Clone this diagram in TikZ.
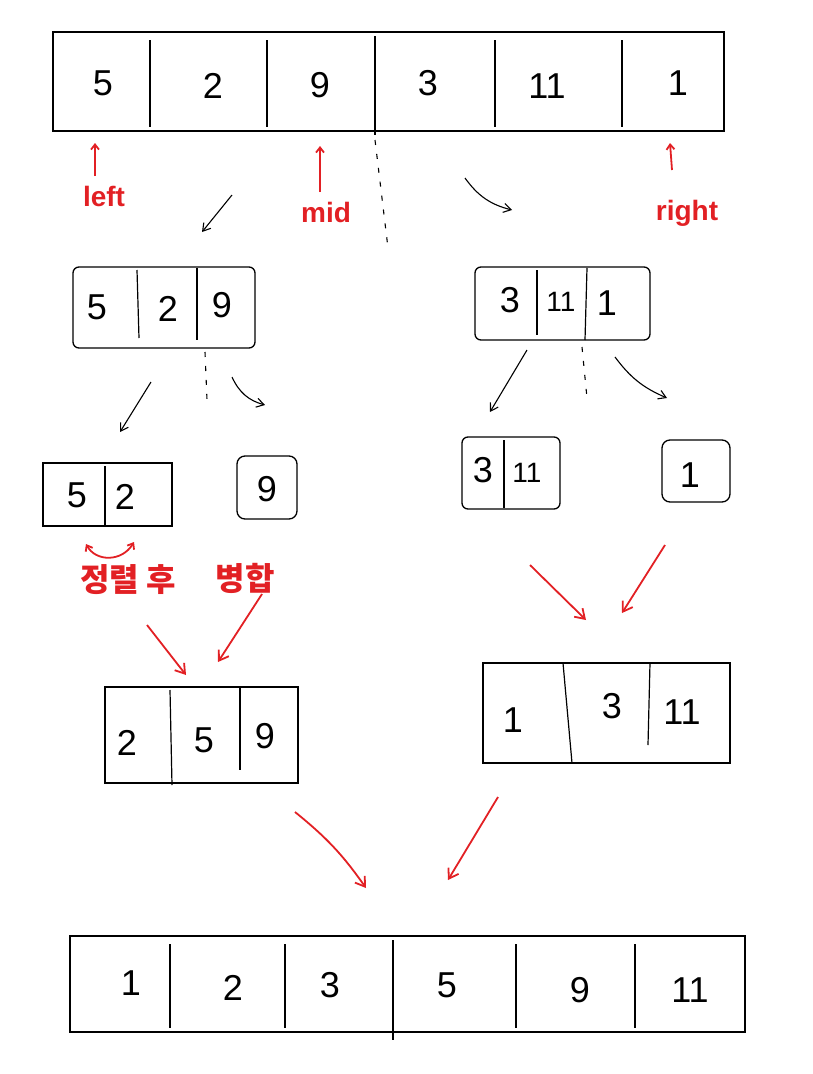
\documentclass[tikz,border=0pt]{standalone}
\usepackage{fontspec}
\usepackage{xcolor}
\usetikzlibrary{arrows.meta,positioning,calc}
\setsansfont{Liberation Sans}
\newfontfamily\korfont{Noto Sans CJK KR}
\definecolor{pen}{RGB}{226,32,36}

\begin{document}
\begin{tikzpicture}[
    x=1pt,y=-1pt,
    >={Straight Barb[length=2.6mm,width=3.2mm]},
    arr/.style={draw=black,line width=1.3pt,inner sep=0pt},
    cellline/.style={draw=black,line width=1.2pt},
    num/.style={font=\sffamily\fontsize{36}{40}\selectfont,inner sep=1pt},
    split/.style={->,line width=1.1pt,draw=black},
    dots/.style={draw=black,line width=1.1pt,dash pattern=on 5pt off 9pt},
    merge/.style={->,line width=1.8pt,draw=pen,
      >={Straight Barb[length=3.2mm,width=4.2mm]}},
    pointer/.style={->,line width=1.8pt,draw=pen,
      >={Straight Barb[length=1.8mm,width=2.8mm]}},
    marker/.style={text=pen,font=\sffamily\bfseries\fontsize{28}{32}\selectfont},
    remark/.style={text=pen,font=\korfont\bfseries\fontsize{32}{36}\selectfont}
  ]
    \useasboundingbox (0,0) rectangle (813,1074);

    % Original array: 5 2 9 3 11 1
    \node[arr,minimum width=671pt,minimum height=99pt] (top) at (388.5,81.5) {};
    \foreach \xx in {150,267,495,622}
      \draw[cellline] (\xx,40) -- (\xx,127);
    \draw[cellline] (375,36) -- (375,135);
    \node[num] (t1) at (103,83) {5};
    \node[num] (t2) at (213,86) {2};
    \node[num] (t3) at (320,85) {9};
    \node[num] (t4) at (428,83) {3};
    \node[num] (t5) at (547,86) {11};
    \node[num] (t6) at (678,83) {1};

    % Pointers under the array
    \coordinate (pl) at (95,176);   \coordinate (plt) at (95,143);
    \coordinate (pm) at (320,192);  \coordinate (pmt) at (320,146);
    \coordinate (pr) at (672,170);  \coordinate (prt) at (670,143);
    \draw[pointer] (pl) -- (plt);
    \draw[pointer] (pm) -- (pmt);
    \draw[pointer] (pr) -- (prt);
    \node[marker] (lleft) at (104,196) {left};
    \node[marker] (lmid) at (326,212) {mid};
    \node[marker] (lright) at (687,213) {right};

    % First split
    \draw[dots] (375,140) -- (388,248);
    \coordinate (s1a) at (232,195); \coordinate (s1b) at (202,232);
    \coordinate (s2a) at (465,178); \coordinate (s2b) at (512,210);
    \draw[split] (s1a) -- (s1b);
    \draw[split] (s2a) to[bend right=20] (s2b);

    % Left half: 5 2 9
    \node[arr,rounded corners=6pt,minimum width=182pt,minimum height=81pt] (lh) at (164,307.5) {};
    \draw[cellline] (137,270) -- (139,338);
    \draw[cellline] (197,268) -- (197,340);
    \node[num] (lh1) at (97,307) {5};
    \node[num] (lh2) at (168,309) {2};
    \node[num] (lh3) at (222,305) {9};

    % Right half: 3 11 1
    \node[arr,rounded corners=6pt,minimum width=175pt,minimum height=73pt] (rh) at (562.5,303.5) {};
    \draw[cellline] (537,270) -- (537,335);
    \draw[cellline] (587,268) -- (585,340);
    \node[num] (rh1) at (510,300) {3};
    \node[num,font=\sffamily\fontsize{28}{32}\selectfont] (rh2) at (561,302) {11};
    \node[num] (rh3) at (607,303) {1};

    % Second split
    \draw[dots] (205,352) -- (207,400);
    \draw[dots] (582,347) -- (587,398);
    \coordinate (s3a) at (151,382); \coordinate (s3b) at (120,432);
    \coordinate (s4a) at (232,377); \coordinate (s4b) at (265,405);
    \coordinate (s5a) at (527,350); \coordinate (s5b) at (490,412);
    \coordinate (s6a) at (615,357); \coordinate (s6b) at (667,398);
    \draw[split] (s3a) -- (s3b);
    \draw[split] (s4a) to[bend right=25] (s4b);
    \draw[split] (s5a) -- (s5b);
    \draw[split] (s6a) to[bend right=15] (s6b);

    % Single pieces
    \node[arr,minimum width=129pt,minimum height=63pt] (p52) at (107.5,494.5) {};
    \draw[cellline] (105,466) -- (105,525);
    \node[num] (p52a) at (77,495) {5};
    \node[num] (p52b) at (125,497) {2};
    \node[arr,rounded corners=8pt,minimum width=60pt,minimum height=63pt] (p9) at (267,487.5) {};
    \node[num] (p9a) at (267,489) {9};
    \node[arr,rounded corners=6pt,minimum width=98pt,minimum height=72pt] (p311) at (511,473) {};
    \draw[cellline] (504,440) -- (504,508);
    \node[num] (p311a) at (483,470) {3};
    \node[num,font=\sffamily\fontsize{28}{32}\selectfont] (p311b) at (527,473) {11};
    \node[arr,rounded corners=8pt,minimum width=68pt,minimum height=62pt] (p1) at (696,471) {};
    \node[num] (p1a) at (690,475) {1};

    % Swap and merge notes
    \coordinate (sw1) at (86,544); \coordinate (sw2) at (134,542);
    \draw[pointer,<->] (sw1) .. controls (96,562) and (122,562) .. (sw2);
    \node[remark] (nsort) at (128,580) {정렬 후};
    \node[remark] (nmerge) at (245,578) {병합};

    % Merge arrows, second level
    \coordinate (m1a) at (147,625); \coordinate (m1b) at (186,675);
    \coordinate (m2a) at (262,594); \coordinate (m2b) at (218,662);
    \coordinate (m3a) at (530,565); \coordinate (m3b) at (586,620);
    \coordinate (m4a) at (665,545); \coordinate (m4b) at (622,613);
    \draw[merge] (m1a) -- (m1b);
    \draw[merge] (m2a) -- (m2b);
    \draw[merge] (m3a) -- (m3b);
    \draw[merge] (m4a) -- (m4b);

    % Merged halves
    \node[arr,minimum width=193pt,minimum height=96pt] (ml) at (201.5,735) {};
    \draw[cellline] (170,690) -- (172,785);
    \draw[cellline] (240,688) -- (240,770);
    \node[num] (ml1) at (127,743) {2};
    \node[num] (ml2) at (204,740) {5};
    \node[num] (ml3) at (265,736) {9};
    \node[arr,minimum width=247pt,minimum height=100pt] (mr) at (606.5,713) {};
    \draw[cellline] (563,663) -- (572,763);
    \draw[cellline] (650,663) -- (648,745);
    \node[num] (mr1) at (513,720) {1};
    \node[num] (mr2) at (612,706) {3};
    \node[num] (mr3) at (682,712) {11};

    % Merge arrows, final level
    \coordinate (m5a) at (295,812); \coordinate (m5b) at (366,888);
    \coordinate (m6a) at (498,797); \coordinate (m6b) at (448,880);
    \draw[merge] (m5a) to[bend left=8] (m5b);
    \draw[merge] (m6a) -- (m6b);

    % Sorted array: 1 2 3 5 9 11
    \node[arr,minimum width=675pt,minimum height=96pt] (bot) at (407.5,984) {};
    \foreach \xx in {170,285,516,635}
      \draw[cellline] (\xx,944) -- (\xx,1028);
    \draw[cellline] (393,940) -- (393,1040);
    \node[num] (b1) at (131,983) {1};
    \node[num] (b2) at (233,988) {2};
    \node[num] (b3) at (330,985) {3};
    \node[num] (b4) at (447,985) {5};
    \node[num] (b5) at (580,990) {9};
    \node[num] (b6) at (690,990) {11};
\end{tikzpicture}
\end{document}
